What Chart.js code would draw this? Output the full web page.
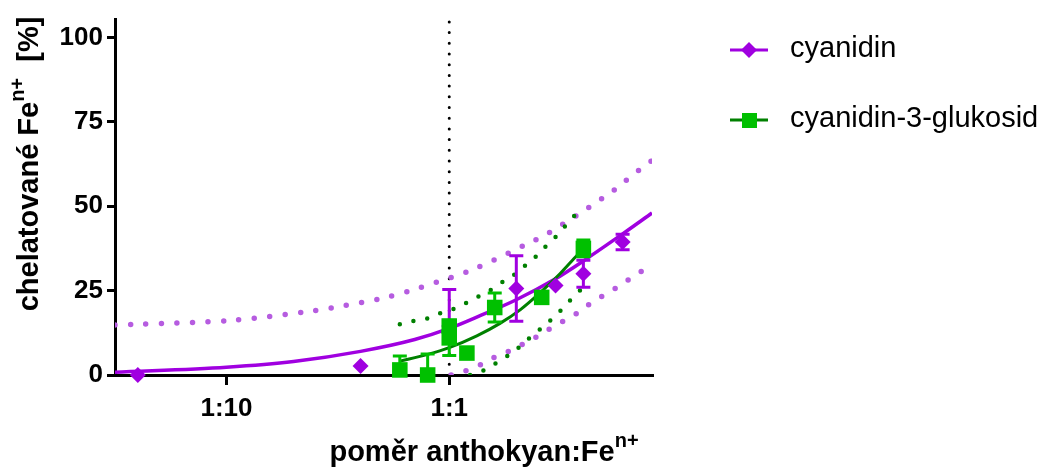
<!DOCTYPE html>
<html>
<head>
<meta charset="utf-8">
<script src="https://cdn.jsdelivr.net/npm/chart.js@4.4.1/dist/chart.umd.min.js"></script>
<style>
  html, body { margin: 0; padding: 0; background: #fff; }
  #wrap { width: 1044px; height: 468px; position: relative; }
</style>
</head>
<body>
<div id="wrap"><canvas id="chart"></canvas></div>
<script>
// ratio anthocyanin : Fe (x), chelated Fe in % (y)
const xMin = 0.0316, xMax = 8.13;
const yMax = 105.3;
const xTickValues = [0.1, 1];
const xTickLabels = ['1:10', '1:1'];
const yTickValues = [0, 25, 50, 75, 100];
const refRatio = 1;

// measured points
const cyanidinX = [0.04, 0.4, 1, 2, 3, 4, 6];
const cyanidinY = [0, 2.7, 14.5, 25.6, 26.5, 30, 39.4];
const cyanidinErrUp = [0, 0, 10.8, 9.7, 0, 4, 2.3];
const cyanidinErrDown = [0, 0, 3.5, 9.7, 0, 4, 2.3];

const glucosideX = [0.6, 0.8, 1, 1, 1.2, 1.6, 2.6, 4];
const glucosideY = [1.5, 0, 14.5, 11, 6.5, 20, 23, 37.5];
const glucosideErrUp = [4.1, 6.2, 0, 5.2, 0, 4.3, 0, 2.5];
const glucosideErrDown = [0, 0, 0, 5.2, 0, 4.3, 0, 2.5];

// fitted curves
const cyanidinFitX = [0.0316, 0.1, 0.2, 0.4, 0.7, 1, 1.4, 2, 3, 4, 6, 8.13];
const cyanidinFitY = [0.8, 2.3, 4.0, 7.0, 10.5, 13.8, 17.8, 22.3, 28.5, 33.8, 41.8, 48];
const glucosideFitX = [0.6, 0.8, 1, 1.33, 1.69, 2.08, 2.56, 3.14, 3.75, 4];
const glucosideFitY = [4.1, 6.1, 8.1, 11.6, 15.3, 19.3, 24.4, 30, 35.5, 37.4];

// confidence bands
const cyanidinUpperX = [0.0316, 0.04, 0.106, 0.24, 0.33, 0.52, 0.7, 1.28, 2.3, 2.67, 3.05, 3.55, 4.03, 4.6, 5.3, 6, 6.8, 7.65, 8.13];
const cyanidinUpperY = [14.8, 15, 16.2, 18.9, 20.4, 23, 25.4, 31.3, 39.2, 41.3, 43.7, 46.3, 48.7, 51.3, 54, 56.9, 59.6, 62.5, 63.5];
const cyanidinLowerX = [1.02, 1.18, 1.38, 1.57, 1.82, 2.13, 2.45, 2.81, 3.24, 3.75, 4.24, 5.66, 6.41, 7.42, 8.13];
const cyanidinLowerY = [0, 1.2, 3, 5, 6.8, 9.1, 11.2, 13.6, 15.9, 18.3, 20.9, 26, 28.3, 31, 32.5];
const glucosideUpperX = [0.6, 0.69, 0.8, 0.91, 1.04, 1.18, 1.33, 1.5, 1.69, 1.91, 2.11, 2.37, 2.62, 2.92, 3.22, 3.53, 4];
const glucosideUpperY = [15, 16, 16.8, 18.3, 19.5, 21.2, 23, 24.8, 27.1, 29.2, 31.6, 34.2, 37.2, 40.1, 43.1, 46.3, 49.3];
const glucosideLowerX = [1.24, 1.44, 1.62, 1.82, 2.04, 2.26, 2.53, 2.81, 3.11, 3.42, 3.79, 4];
const glucosideLowerY = [0, 1.5, 3.5, 5.6, 8, 10.6, 13.3, 15.9, 18.6, 21.5, 24.5, 26];

const seriesNames = ['cyanidin', 'cyanidin-3-glukosid'];

const PURPLE = '#a000e0';
const PURPLE_LIGHT = '#b65ce0';
const GREEN = '#00c000';
const GREEN_DARK = '#008000';
const FONT = '"Liberation Sans", Arial, sans-serif';

const pts = (xs, ys) => xs.map((x, i) => ({x, y: ys[i]}));

function band(xs, ys, color, width, gap) {
  return {
    data: pts(xs, ys), showLine: true, pointRadius: 0,
    borderColor: color, borderWidth: width, borderDash: [0, gap],
    borderCapStyle: 'round', tension: 0.3, order: 6
  };
}

const errorBars = {
  id: 'errorBars',
  beforeDatasetDraw(chart, args) {
    const ds = chart.data.datasets[args.index];
    if (!ds.errUp) return;
    const {ctx, scales: {x, y}} = chart;
    const half = 7;
    ctx.save();
    ctx.strokeStyle = ds.errColor;
    ctx.lineWidth = 3;
    ds.data.forEach((p, i) => {
      const up = ds.errUp[i], down = ds.errDown[i];
      if (!up && !down) return;
      const px = x.getPixelForValue(p.x);
      const top = y.getPixelForValue(p.y + up);
      const bot = y.getPixelForValue(p.y - down);
      ctx.beginPath();
      ctx.moveTo(px, top);
      ctx.lineTo(px, bot);
      if (up) { ctx.moveTo(px - half, top); ctx.lineTo(px + half, top); }
      if (down) { ctx.moveTo(px - half, bot); ctx.lineTo(px + half, bot); }
      ctx.stroke();
    });
    ctx.restore();
  }
};

// text with a raised "n+" part
function richWidth(ctx, parts, size, supSize) {
  return parts.reduce((w, p) => {
    ctx.font = 'bold ' + (p.sup ? supSize : size) + 'px ' + FONT;
    return w + ctx.measureText(p.text).width;
  }, 0);
}
function drawRich(ctx, parts, x, y, size, supSize, rise) {
  parts.forEach(p => {
    ctx.font = 'bold ' + (p.sup ? supSize : size) + 'px ' + FONT;
    ctx.fillText(p.text, x, p.sup ? y - rise : y);
    x += ctx.measureText(p.text).width;
  });
}

const axisTitles = {
  id: 'axisTitles',
  afterDraw(chart) {
    const ctx = chart.ctx;
    ctx.save();
    ctx.fillStyle = '#000';
    ctx.textAlign = 'left';
    ctx.textBaseline = 'alphabetic';

    const xParts = [{text: 'poměr anthokyan:Fe'}, {text: 'n+', sup: true}];
    const xw = richWidth(ctx, xParts, 29, 20);
    drawRich(ctx, xParts, 484 - xw / 2, 461, 29, 20, 14);

    const yParts = [{text: 'chelatované Fe'}, {text: 'n+', sup: true}, {text: '  [%]'}];
    const yw = richWidth(ctx, yParts, 29, 20);
    ctx.translate(38, 164);
    ctx.rotate(-Math.PI / 2);
    drawRich(ctx, yParts, -yw / 2, 0, 29, 20, 14);
    ctx.restore();
  }
};

const legendBox = {
  id: 'legendBox',
  afterDraw(chart) {
    const ctx = chart.ctx;
    ctx.save();
    // cyanidin
    ctx.strokeStyle = PURPLE; ctx.lineWidth = 3;
    ctx.beginPath(); ctx.moveTo(730, 50); ctx.lineTo(768, 50); ctx.stroke();
    ctx.fillStyle = PURPLE;
    ctx.beginPath();
    ctx.moveTo(749, 42); ctx.lineTo(757, 50); ctx.lineTo(749, 58); ctx.lineTo(741, 50);
    ctx.closePath(); ctx.fill();
    // cyanidin-3-glukosid
    ctx.strokeStyle = GREEN_DARK;
    ctx.beginPath(); ctx.moveTo(730, 120); ctx.lineTo(768, 120); ctx.stroke();
    ctx.fillStyle = GREEN;
    ctx.fillRect(742, 113, 15, 15);

    ctx.fillStyle = '#000';
    ctx.font = '29px ' + FONT;
    ctx.textBaseline = 'middle';
    ctx.fillText(seriesNames[0], 790, 49);
    ctx.fillText(seriesNames[1], 790, 119);
    ctx.restore();
  }
};

Chart.defaults.font.family = FONT;

new Chart(document.getElementById('chart'), {
  type: 'scatter',
  data: {
    datasets: [
      {
        label: seriesNames[1], data: pts(glucosideX, glucosideY),
        pointStyle: 'rect', pointRadius: 11, pointBackgroundColor: GREEN, pointBorderWidth: 0,
        errUp: glucosideErrUp, errDown: glucosideErrDown, errColor: GREEN,
        clip: false, order: 0
      },
      {
        label: seriesNames[0], data: pts(cyanidinX, cyanidinY),
        pointStyle: 'rectRot', pointRadius: 8, pointBackgroundColor: PURPLE, pointBorderWidth: 0,
        errUp: cyanidinErrUp, errDown: cyanidinErrDown, errColor: PURPLE,
        clip: false, order: 1
      },
      {
        data: pts(glucosideFitX, glucosideFitY), showLine: true, pointRadius: 0,
        borderColor: GREEN_DARK, borderWidth: 3, cubicInterpolationMode: 'monotone', order: 2
      },
      {
        data: pts(cyanidinFitX, cyanidinFitY), showLine: true, pointRadius: 0,
        borderColor: PURPLE, borderWidth: 3.5, cubicInterpolationMode: 'monotone', order: 3
      },
      band(glucosideUpperX, glucosideUpperY, GREEN_DARK, 4.5, 14),
      band(glucosideLowerX, glucosideLowerY, GREEN_DARK, 4.5, 14),
      band(cyanidinUpperX, cyanidinUpperY, PURPLE_LIGHT, 5.5, 15.5),
      band(cyanidinLowerX, cyanidinLowerY, PURPLE_LIGHT, 5.5, 15.5),
      {
        data: [{x: refRatio, y: 0}, {x: refRatio, y: yMax}], showLine: true, pointRadius: 0,
        borderColor: '#000', borderWidth: 3, borderDash: [0, 10.7], borderCapStyle: 'round', order: 7
      }
    ]
  },
  options: {
    animation: false,
    responsive: true,
    maintainAspectRatio: false,
    devicePixelRatio: 1,
    layout: {padding: {top: 18, right: 392, left: 0, bottom: 0}},
    plugins: {legend: {display: false}, tooltip: {enabled: false}},
    scales: {
      x: {
        type: 'logarithmic', min: xMin, max: xMax,
        afterBuildTicks: s => { s.ticks = xTickValues.map(v => ({value: v})); },
        afterFit: s => { s.height = 93; },
        ticks: {
          callback: v => xTickLabels[xTickValues.indexOf(v)],
          autoSkip: false, maxRotation: 0, padding: 8,
          color: '#000', font: {size: 26, weight: 'bold'}
        },
        grid: {drawOnChartArea: false, drawTicks: true, tickLength: 10, lineWidth: 3, color: '#000'},
        border: {display: true, width: 3, color: '#000'}
      },
      y: {
        type: 'linear', min: 0, max: yMax,
        afterBuildTicks: s => { s.ticks = yTickValues.map(v => ({value: v})); },
        afterFit: s => { s.width = 115; },
        ticks: {padding: 4, color: '#000', font: {size: 26, weight: 'bold'}},
        grid: {drawOnChartArea: false, drawTicks: true, tickLength: 8, lineWidth: 3, color: '#000'},
        border: {display: true, width: 3, color: '#000'}
      }
    }
  },
  plugins: [errorBars, axisTitles, legendBox]
});
</script>
</body>
</html>
